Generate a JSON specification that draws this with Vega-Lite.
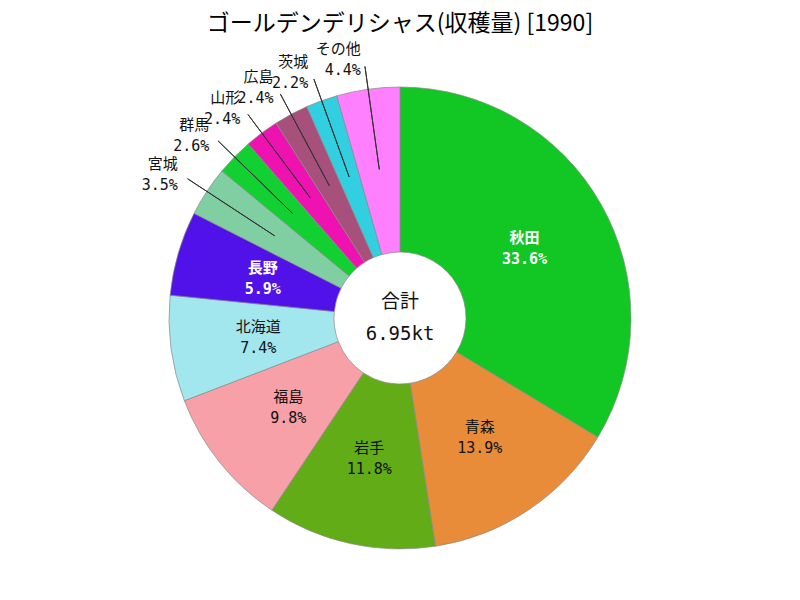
{
  "$schema": "https://vega.github.io/schema/vega-lite/v6.json",
  "autosize": {"type": "fit", "contains": "padding"},
  "width": 800,
  "height": 600,
  "padding": {"top": 20, "bottom": 13, "left": 0, "right": 0},
  "background": "white",
  "title": {"text": "ゴールデンデリシャス(収穫量) [1990]", "font": "Noto Sans CJK JP", "fontSize": 23, "fontWeight": "normal", "color": "#000000", "anchor": "middle", "offset": 6},
  "data": {"values": [
    {"rank": 1, "name": "秋田", "share": 0.336},
    {"rank": 2, "name": "青森", "share": 0.139},
    {"rank": 3, "name": "岩手", "share": 0.118},
    {"rank": 4, "name": "福島", "share": 0.098},
    {"rank": 5, "name": "北海道", "share": 0.074},
    {"rank": 6, "name": "長野", "share": 0.059},
    {"rank": 7, "name": "宮城", "share": 0.035},
    {"rank": 8, "name": "群馬", "share": 0.026},
    {"rank": 9, "name": "山形", "share": 0.024},
    {"rank": 10, "name": "広島", "share": 0.024},
    {"rank": 11, "name": "茨城", "share": 0.022},
    {"rank": 12, "name": "その他", "share": 0.044}
  ]},
  "transform": [
    {"stack": "share", "groupby": [], "sort": [{"field": "rank"}], "as": ["s0", "s1"]},
    {"calculate": "(datum.s0 + datum.s1) / 2", "as": "mid"}
  ],
  "layer": [
    {
      "mark": {"type": "arc", "outerRadius": 231, "innerRadius": 66, "stroke": "#8a8a8a", "strokeWidth": 0.7},
      "encoding": {
        "theta": {"field": "s0", "type": "quantitative", "scale": {"domain": [0, 0.999]}},
        "theta2": {"field": "s1"},
        "color": {"field": "name", "type": "nominal", "legend": null,
          "scale": {
            "domain": ["秋田", "青森", "岩手", "福島", "北海道", "長野", "宮城", "群馬", "山形", "広島", "茨城", "その他"],
            "range": ["#12C624", "#E88C3A", "#62AC18", "#F8A0A8", "#A2E6EE", "#5012E8", "#80CFA2", "#12D032", "#EE12B0", "#A8507C", "#32CFE0", "#FF80FF"]
          }
        }
      }
    },
    {
      "transform": [{"filter": "datum.share < 0.05"}],
      "mark": {"type": "arc", "outerRadius": 254, "innerRadius": 150, "stroke": "#333333", "strokeWidth": 1, "fill": null, "filled": false},
      "encoding": {
        "theta": {"field": "mid", "type": "quantitative"},
        "theta2": {"field": "mid"}
      }
    },
    {
      "transform": [{"filter": "datum.share >= 0.05 && datum.name !== '秋田' && datum.name !== '長野'"}],
      "mark": {"type": "text", "radius": 143, "dy": -10, "fontSize": 15, "font": "DejaVu Sans Mono, Noto Sans CJK JP", "color": "#111111"},
      "encoding": {
        "theta": {"field": "mid", "type": "quantitative"},
        "text": {"field": "name"}
      }
    },
    {
      "transform": [{"filter": "datum.share >= 0.05 && datum.name !== '秋田' && datum.name !== '長野'"}],
      "mark": {"type": "text", "radius": 143, "dy": 11, "fontSize": 15, "font": "DejaVu Sans Mono, Noto Sans CJK JP", "color": "#111111"},
      "encoding": {
        "theta": {"field": "mid", "type": "quantitative"},
        "text": {"field": "share", "format": ".1%"}
      }
    },
    {
      "transform": [{"filter": "datum.name === '秋田' || datum.name === '長野'"}],
      "mark": {"type": "text", "radius": 143, "dy": -10, "fontSize": 15, "font": "DejaVu Sans Mono, Noto Sans CJK JP", "fontWeight": "bold", "color": "#ffffff"},
      "encoding": {
        "theta": {"field": "mid", "type": "quantitative"},
        "text": {"field": "name"}
      }
    },
    {
      "transform": [{"filter": "datum.name === '秋田' || datum.name === '長野'"}],
      "mark": {"type": "text", "radius": 143, "dy": 11, "fontSize": 15, "font": "DejaVu Sans Mono, Noto Sans CJK JP", "fontWeight": "bold", "color": "#ffffff"},
      "encoding": {
        "theta": {"field": "mid", "type": "quantitative"},
        "text": {"field": "share", "format": ".1%"}
      }
    },
    {
      "transform": [{"filter": "datum.share < 0.05"}],
      "mark": {"type": "text", "radius": 262, "align": "right", "dx": -3, "dy": -10, "fontSize": 15, "font": "DejaVu Sans Mono, Noto Sans CJK JP", "color": "#111111"},
      "encoding": {
        "theta": {"field": "mid", "type": "quantitative"},
        "text": {"field": "name"}
      }
    },
    {
      "transform": [{"filter": "datum.share < 0.05"}],
      "mark": {"type": "text", "radius": 262, "align": "right", "dx": -3, "dy": 11, "fontSize": 15, "font": "DejaVu Sans Mono, Noto Sans CJK JP", "color": "#111111"},
      "encoding": {
        "theta": {"field": "mid", "type": "quantitative"},
        "text": {"field": "share", "format": ".1%"}
      }
    },
    {
      "data": {"values": [{"line1": "合計", "line2": "6.95kt"}]},
      "mark": {"type": "text", "dy": -16, "fontSize": 19, "font": "DejaVu Sans Mono, Noto Sans CJK JP", "color": "#111111"},
      "encoding": {"text": {"field": "line1"}}
    },
    {
      "data": {"values": [{"line1": "合計", "line2": "6.95kt"}]},
      "mark": {"type": "text", "dy": 16, "fontSize": 19, "font": "DejaVu Sans Mono, Noto Sans CJK JP", "color": "#111111"},
      "encoding": {"text": {"field": "line2"}}
    }
  ]
}
